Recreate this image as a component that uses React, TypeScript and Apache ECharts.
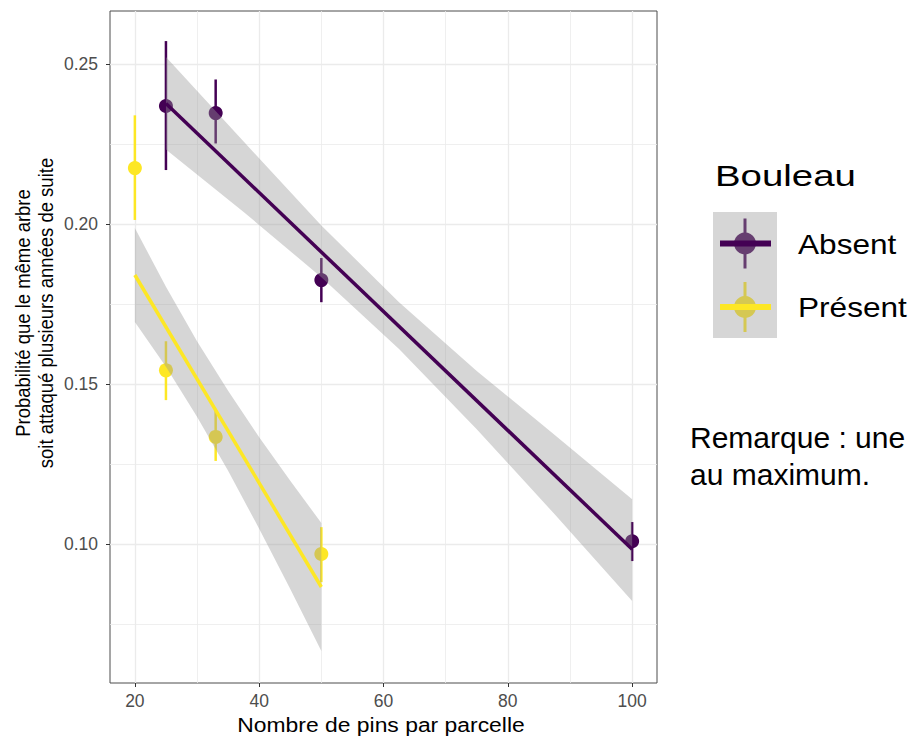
import React, { useEffect, useRef } from "react";
import * as echarts from "echarts";

// ---- data ----
const pinsAbsent = [25, 33, 50, 100];
const probAbsent = [0.2369, 0.2347, 0.1825, 0.1009];
const lowAbsent = [0.2169, 0.2252, 0.1756, 0.0947];
const highAbsent = [0.2572, 0.2452, 0.1894, 0.1069];

const pinsPresent = [20, 25, 33, 50];
const probPresent = [0.2175, 0.1543, 0.1335, 0.0969];
const lowPresent = [0.2013, 0.145, 0.126, 0.0881];
const highPresent = [0.2340, 0.1634, 0.1416, 0.1053];

const fitAbsentX = [25, 100];
const fitAbsentY = [0.2377, 0.0984];
const fitPresentX = [20, 50];
const fitPresentY = [0.1841, 0.0866];

const ribbonAbsentX = [25, 37.5, 50, 62.5, 75, 87.5, 100];
const ribbonAbsentLow = [0.2233, 0.2038, 0.1834, 0.161, 0.1359, 0.1094, 0.0822];
const ribbonAbsentHigh = [0.2522, 0.2258, 0.1996, 0.1756, 0.1541, 0.1342, 0.1140];

const ribbonPresentX = [20, 25, 30, 35, 40, 45, 50];
const ribbonPresentLow = [0.1694, 0.1554, 0.1398, 0.1229, 0.1048, 0.086, 0.0666];
const ribbonPresentHigh = [0.1988, 0.1804, 0.1634, 0.1479, 0.1334, 0.1198, 0.1066];

const xTicks = [20, 40, 60, 80, 100];
const xMinorTicks = [30, 50, 70, 90];
const yTicks = [0.1, 0.15, 0.2, 0.25];
const yMinorTicks = [0.075, 0.125, 0.175, 0.225];

const groupNames = ["Absent", "Présent"];
const legendTitle = "Bouleau";
const xTitle = "Nombre de pins par parcelle";
const yTitle = "Probabilité que le même arbre\nsoit attaqué plusieurs années de suite";
const remark = "Remarque : une\nau maximum.";

const PURPLE = "#440154";
const YELLOW = "#FDE725";
const PURPLE_SHADED = "#663E70";
const YELLOW_SHADED = "#D5C853";
const RIBBON = "rgba(153,153,153,0.4)";
const FONT = "'Liberation Sans', Arial, Helvetica, sans-serif";

function errorBarSeries(xs: number[], lo: number[], hi: number[], color: string) {
  return {
    type: "custom",
    z: 2,
    data: xs.map((x, i) => [x, lo[i], hi[i]]),
    encode: { x: 0, y: [1, 2] },
    renderItem: (params: any, api: any) => {
      const a = api.coord([api.value(0), api.value(1)]);
      const b = api.coord([api.value(0), api.value(2)]);
      return {
        type: "line",
        shape: { x1: a[0], y1: a[1], x2: b[0], y2: b[1] },
        style: { stroke: color, lineWidth: 2.5 },
      };
    },
  };
}

function ribbonSeries(xs: number[], lo: number[], hi: number[]) {
  return {
    type: "custom",
    z: 3,
    data: xs.map((x, i) => [x, lo[i], hi[i]]),
    encode: { x: 0, y: [1, 2] },
    renderItem: (params: any, api: any) => {
      if (params.dataIndex !== 0) return null;
      const pts: number[][] = [];
      for (let i = 0; i < xs.length; i++) pts.push(api.coord([xs[i], hi[i]]));
      for (let i = xs.length - 1; i >= 0; i--) pts.push(api.coord([xs[i], lo[i]]));
      return {
        type: "polygon",
        shape: { points: pts },
        style: { fill: RIBBON, stroke: "none" },
      };
    },
  };
}

function legendKey(cy: number, line: string, shaded: string) {
  return [
    { type: "line", shape: { x1: 745, y1: cy - 25, x2: 745, y2: cy + 25 }, style: { stroke: shaded, lineWidth: 3 }, z: 11 },
    { type: "circle", shape: { cx: 745, cy, r: 11 }, style: { fill: shaded }, z: 12 },
    { type: "line", shape: { x1: 720, y1: cy, x2: 771, y2: cy }, style: { stroke: line, lineWidth: 6 }, z: 13 },
  ];
}

export default function App() {
  const ref = useRef<HTMLDivElement>(null);
  useEffect(() => {
    if (!ref.current) return;
    const chart = echarts.init(ref.current, null, { renderer: "svg" });
    const option: any = {
      animation: false,
      backgroundColor: "#ffffff",
      textStyle: { fontFamily: FONT },
      grid: {
        left: 110,
        top: 11,
        width: 547,
        height: 672,
        show: true,
        borderColor: "#4d4d4d",
        borderWidth: 1,
        backgroundColor: "#ffffff",
      },
      xAxis: [
        {
          type: "value",
          min: 16,
          max: 104,
          axisLine: { show: false },
          axisTick: { show: true, length: 4, customValues: xTicks, lineStyle: { color: "#333", width: 1 } },
          axisLabel: { customValues: xTicks, color: "#4D4D4D", fontSize: 17.5, margin: 9, fontFamily: FONT },
          splitLine: { show: true, lineStyle: { color: "#EBEBEB", width: 1.3 } },
        },
        {
          type: "value",
          min: 16,
          max: 104,
          position: "top",
          axisLine: { show: false },
          axisTick: { show: false, customValues: xMinorTicks },
          axisLabel: { show: false },
          splitLine: { show: true, lineStyle: { color: "#EBEBEB", width: 0.8 } },
        },
      ],
      yAxis: [
        {
          type: "value",
          min: 0.0566,
          max: 0.2666,
          axisLine: { show: false },
          axisTick: { show: true, length: 4, customValues: yTicks, lineStyle: { color: "#333", width: 1 } },
          axisLabel: {
            customValues: yTicks,
            color: "#4D4D4D",
            fontSize: 17.5,
            margin: 12,
            fontFamily: FONT,
            formatter: (v: number) => v.toFixed(2),
          },
          splitLine: { show: true, lineStyle: { color: "#EBEBEB", width: 1.3 } },
        },
        {
          type: "value",
          min: 0.0566,
          max: 0.2666,
          position: "right",
          axisLine: { show: false },
          axisTick: { show: false, customValues: yMinorTicks },
          axisLabel: { show: false },
          splitLine: { show: true, lineStyle: { color: "#EBEBEB", width: 0.8 } },
        },
      ],
      series: [
        errorBarSeries(pinsAbsent, lowAbsent, highAbsent, PURPLE),
        errorBarSeries(pinsPresent, lowPresent, highPresent, YELLOW),
        {
          type: "scatter",
          name: groupNames[0],
          z: 2,
          symbolSize: 14,
          itemStyle: { color: PURPLE, opacity: 1 },
          data: pinsAbsent.map((x, i) => [x, probAbsent[i]]),
        },
        {
          type: "scatter",
          name: groupNames[1],
          z: 2,
          symbolSize: 14,
          itemStyle: { color: YELLOW, opacity: 1 },
          data: pinsPresent.map((x, i) => [x, probPresent[i]]),
        },
        ribbonSeries(ribbonAbsentX, ribbonAbsentLow, ribbonAbsentHigh),
        ribbonSeries(ribbonPresentX, ribbonPresentLow, ribbonPresentHigh),
        {
          type: "line",
          z: 4,
          symbol: "none",
          lineStyle: { color: PURPLE, width: 3.5 },
          data: fitAbsentX.map((x, i) => [x, fitAbsentY[i]]),
        },
        {
          type: "line",
          z: 4,
          symbol: "none",
          lineStyle: { color: YELLOW, width: 3.5 },
          data: fitPresentX.map((x, i) => [x, fitPresentY[i]]),
        },
      ],
      graphic: [
        {
          type: "text",
          x: 381,
          y: 725,
          scaleX: 1.09,
          style: { text: xTitle, font: `21px ${FONT}`, fill: "#000", align: "center", verticalAlign: "middle" },
        },
        {
          type: "text",
          x: 34,
          y: 313,
          rotation: Math.PI / 2,
          scaleY: 1.12,
          style: {
            text: yTitle,
            font: `18.5px ${FONT}`,
            fill: "#000",
            align: "center",
            verticalAlign: "middle",
            lineHeight: 20.5,
          },
        },
        {
          type: "text",
          x: 715,
          y: 176,
          scaleX: 1.28,
          style: { text: legendTitle, font: `30px ${FONT}`, fill: "#000", align: "left", verticalAlign: "middle" },
        },
        { type: "rect", shape: { x: 713, y: 212, width: 64, height: 126 }, style: { fill: "#D6D6D6" }, z: 10 },
        ...legendKey(243.5, PURPLE, PURPLE_SHADED),
        ...legendKey(307, YELLOW, YELLOW_SHADED),
        {
          type: "text",
          x: 798,
          y: 244,
          scaleX: 1.17,
          style: { text: groupNames[0], font: `27px ${FONT}`, fill: "#000", align: "left", verticalAlign: "middle" },
        },
        {
          type: "text",
          x: 798,
          y: 307,
          scaleX: 1.17,
          style: { text: groupNames[1], font: `27px ${FONT}`, fill: "#000", align: "left", verticalAlign: "middle" },
        },
        {
          type: "text",
          x: 690,
          y: 456,
          style: {
            text: remark,
            font: `30px ${FONT}`,
            fill: "#000",
            align: "left",
            verticalAlign: "middle",
            lineHeight: 37,
          },
        },
      ],
    };
    chart.setOption(option);
    return () => chart.dispose();
  }, []);
  return (
    <div
      ref={ref}
      style={{ position: "absolute", left: 0, top: 0, width: 912, height: 738 }}
    />
  );
}
